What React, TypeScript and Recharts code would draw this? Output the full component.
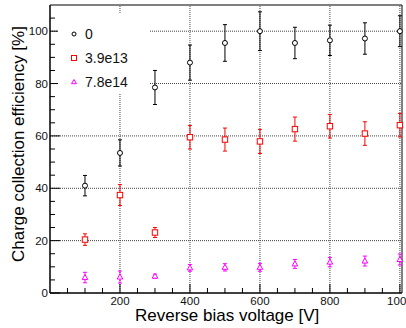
import {
  ScatterChart,
  Scatter,
  XAxis,
  YAxis,
  ErrorBar,
  ReferenceLine,
  Legend,
  Label,
} from "recharts";

// reverse bias voltage [V]
const voltages = [100, 200, 300, 400, 500, 600, 700, 800, 900, 1000];

// fluence 0
const eff0 = [41, 53.5, 78.5, 88, 95.5, 100, 95.5, 96.5, 97.2, 100];
const err0 = [3.9, 5, 6.5, 6.7, 7, 7.4, 6, 5.8, 6, 5.9];

// fluence 3.9e13
const eff39 = [20.4, 37.4, 23.1, 59.5, 58.6, 57.9, 62.6, 63.7, 60.9, 64.1];
const err39 = [2.2, 4, 1.9, 4.5, 4.4, 4.6, 4.6, 4.5, 4.5, 4.5];

// fluence 7.8e14
const eff78 = [5.9, 6.1, 6.4, 9.6, 9.8, 9.8, 11.1, 11.8, 12.2, 12.8];
const err78 = [2, 2.3, 0.8, 1.3, 1.4, 1.5, 1.7, 1.8, 1.9, 2.1];

const seriesNames = ["0", "3.9e13", "7.8e14"];

const xTicks = [50, 100, 150, 200, 250, 300, 350, 400, 450, 500, 550, 600, 650, 700, 750, 800, 850, 900, 950, 1000];
const xLabels = [200, 400, 600, 800, 1000];
const yTicks = [0, 5, 10, 15, 20, 25, 30, 35, 40, 45, 50, 55, 60, 65, 70, 75, 80, 85, 90, 95, 100, 105];
const yLabels = [0, 20, 40, 60, 80, 100];

const FONT = '"Liberation Sans", Arial, Helvetica, sans-serif';

const toRows = (vals: number[], errs: number[]) =>
  voltages.map((v, i) => ({ v, eff: vals[i], err: errs[i] }));

const data0 = toRows(eff0, err0);
const data39 = toRows(eff39, err39);
const data78 = toRows(eff78, err78);

const Circle = (p: any) => (
  <circle cx={p.cx} cy={p.cy} r={2.5} fill="#fff" stroke="#000" strokeWidth={1} />
);
const Square = (p: any) => (
  <rect x={p.cx - 2.7} y={p.cy - 2.7} width={5.4} height={5.4} fill="#fff" stroke="#f00" strokeWidth={1} />
);
const Triangle = (p: any) => (
  <path
    d={`M${p.cx},${p.cy - 3}L${p.cx + 2.8},${p.cy + 2}L${p.cx - 2.8},${p.cy + 2}Z`}
    fill="#fff"
    stroke="#f0f"
    strokeWidth={1}
  />
);

const XTick = (props: any) => {
  const { x, y, payload } = props;
  const major = xLabels.includes(payload.value);
  return (
    <g>
      <line x1={x} x2={x} y1={y} y2={y - (major ? 9 : 5)} stroke="#000" strokeWidth={1} />
      {major && (
        <text x={x} y={y + 12} textAnchor="middle" fontSize={11.5} fontFamily={FONT} fill="#111">
          {payload.value}
        </text>
      )}
    </g>
  );
};

const YTick = (props: any) => {
  const { x, y, payload } = props;
  const major = yLabels.includes(payload.value);
  return (
    <g>
      <line x1={x} x2={x + (major ? 10 : 5)} y1={y} y2={y} stroke="#000" strokeWidth={1} />
      {major && (
        <text x={x - 2} y={y + 4} textAnchor="end" fontSize={11.5} fontFamily={FONT} fill="#111">
          {payload.value}
        </text>
      )}
    </g>
  );
};

const XTitle = (props: any) => {
  const vb = props.viewBox;
  return (
    <text x={vb.x + 85} y={vb.y + 28} fontSize={17} fontFamily={FONT} fill="#000">
      Reverse bias voltage [V]
    </text>
  );
};

const YTitle = (props: any) => {
  const vb = props.viewBox;
  const x = vb.x + 24;
  const y = vb.y + vb.height - 31;
  return (
    <text x={x} y={y} transform={`rotate(-90, ${x}, ${y})`} fontSize={17} fontFamily={FONT} fill="#000">
      Charge collection efficiency [%]
    </text>
  );
};

const markerIcons = [
  <circle cx={6} cy={6} r={2} fill="#fff" stroke="#000" />,
  <rect x={3.5} y={3.5} width={5} height={5} fill="#fff" stroke="#f00" />,
  <path d="M6,3.5L8.5,7.7L3.5,7.7Z" fill="#fff" stroke="#f0f" />,
];

const LegendBox = () => (
  <div style={{ position: "relative", width: 92, height: 80, background: "#fff", fontFamily: FONT, fontSize: 14 }}>
    {seriesNames.map((name, i) => (
      <div key={name} style={{ position: "absolute", left: 10, top: 13 + i * 24, height: 16, display: "flex", alignItems: "center" }}>
        <svg width={12} height={12} style={{ display: "block" }}>
          {markerIcons[i]}
        </svg>
        <span style={{ marginLeft: 5, lineHeight: "16px", color: "#111" }}>{name}</span>
      </div>
    ))}
  </div>
);

const gridX = [200, 400, 600, 800, 1000];
const gridY = [20, 40, 60, 80, 100];

export default function App() {
  return (
    <div style={{ position: "absolute", left: 0, top: 0, width: 406, height: 328, background: "#fff" }}>
      <ScatterChart width={406} height={328} margin={{ top: 5, right: 4, left: 0, bottom: 0 }}>
        <XAxis
          type="number"
          dataKey="v"
          domain={[0, 1006]}
          ticks={xTicks}
          interval={0}
          tickSize={0}
          tickMargin={0}
          tick={<XTick />}
          height={35}
          axisLine={{ stroke: "#000", strokeWidth: 1.5 }}
          tickLine={false}
        >
          <Label content={<XTitle />} />
        </XAxis>
        <YAxis
          type="number"
          dataKey="eff"
          domain={[0, 110]}
          ticks={yTicks}
          interval={0}
          tickSize={0}
          tickMargin={0}
          tick={<YTick />}
          width={50}
          axisLine={{ stroke: "#000", strokeWidth: 1.5 }}
          tickLine={false}
        >
          <Label content={<YTitle />} />
        </YAxis>

        {gridX.map((g) => (
          <ReferenceLine key={"gx" + g} x={g} stroke="#444" strokeDasharray="1 1" strokeWidth={1} />
        ))}
        {gridY.map((g) => (
          <ReferenceLine key={"gy" + g} y={g} stroke="#444" strokeDasharray="1 1" strokeWidth={1} />
        ))}
        <ReferenceLine y={110} stroke="#000" strokeWidth={1} />
        <ReferenceLine x={1006} stroke="#000" strokeWidth={1} />

        <Scatter name="0" data={data0} shape={Circle} isAnimationActive={false}>
          <ErrorBar dataKey="err" direction="y" width={2} stroke="#000" strokeWidth={1} />
        </Scatter>
        <Scatter name="3.9e13" data={data39} shape={Square} isAnimationActive={false}>
          <ErrorBar dataKey="err" direction="y" width={2} stroke="#f00" strokeWidth={1} />
        </Scatter>
        <Scatter name="7.8e14" data={data78} shape={Triangle} isAnimationActive={false}>
          <ErrorBar dataKey="err" direction="y" width={2} stroke="#f0f" strokeWidth={1} />
        </Scatter>

        <Legend
          layout="vertical"
          align="center"
          verticalAlign="middle"
          content={<LegendBox />}
          wrapperStyle={{ left: 58, top: 13, width: 92, height: 80 }}
        />
      </ScatterChart>
    </div>
  );
}
